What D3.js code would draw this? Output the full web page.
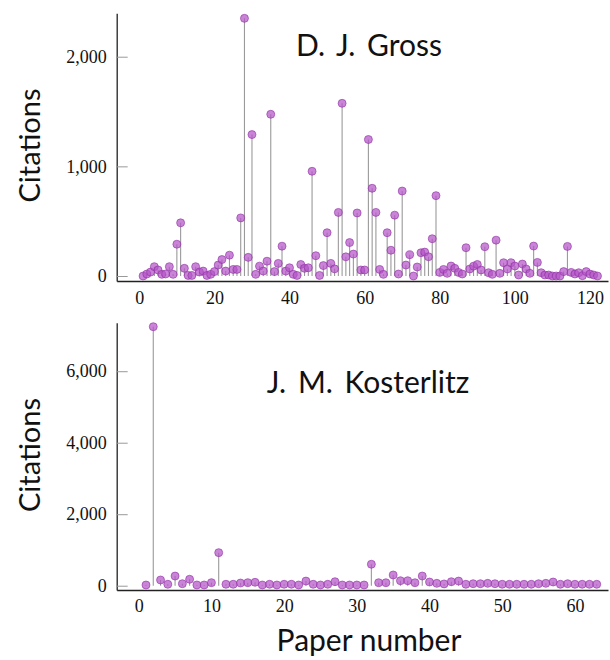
<!DOCTYPE html>
<html>
<head>
<meta charset="utf-8">
<script src="https://cdn.jsdelivr.net/npm/d3@7"></script>
<style>
  body { margin: 0; background: #fff; }
  svg { display: block; }
</style>
</head>
<body>
<svg id="chart" width="610" height="660"></svg>
<script>
// citations per paper (paper number = position + 1)
var grossCites = [
  0, 18, 36, 85, 55, 15, 18, 85, 15, 290,
  485, 70, 5, 5, 85, 36, 45, 5, 15, 40,
  100, 150, 45, 190, 60, 60, 530, 2350, 170, 1290,
  15, 90, 45, 135, 1475, 40, 115, 272, 45, 75,
  15, 5, 105, 70, 75, 955, 185, 5, 95, 395,
  115, 65, 580, 1575, 175, 305, 200, 575, 55, 55,
  1245, 800, 580, 60, 15, 395, 235, 555, 18, 775,
  100, 194, 0, 82, 212, 218, 176, 340, 733, 33,
  60, 24, 91, 70, 33, 18, 258, 64, 90, 105,
  55, 267, 30, 15, 327, 24, 121, 64, 121, 91,
  9, 109, 64, 24, 273, 124, 30, 9, 9, 0,
  0, 0, 40, 270, 33, 18, 30, 3, 40, 18,
  9, 0
]

var kosterlitzCites = [
  20, 7245, 160, 40, 270, 56, 180, 20, 20, 85,
  925, 40, 40, 75, 85, 95, 20, 40, 20, 40,
  40, 20, 130, 40, 20, 40, 112, 20, 20, 20,
  20, 600, 84, 84, 300, 140, 140, 84, 271, 103,
  66, 50, 112, 130, 40, 56, 56, 66, 56, 40,
  40, 40, 40, 40, 56, 66, 103, 40, 56, 40,
  40, 40, 40
]

var grossXTicks = [0, 20, 40, 60, 80, 100, 120]
var grossYTicks = [0, 1000, 2000]
var kosterlitzXTicks = [0, 10, 20, 30, 40, 50, 60]
var kosterlitzYTicks = [0, 2000, 4000, 6000]

const svg = d3.select("#chart")

const sansFont = "Lato, 'Open Sans', sans-serif"
const serifFont = "'Liberation Serif', 'DejaVu Serif', serif"

function drawPanel(cites, opts) {

    const x = d3.scaleLinear()
        .domain(opts.xDomain)
        .range([116.7, 608]);

    const y = d3.scaleLinear()
        .domain(opts.yDomain)
        .range([opts.bottom, opts.top]);

    const g = svg.append("g")

    // y axis, ticks point inward
    const yAxis = g.append("g")
        .attr("transform", "translate(" + x.range()[0] + ",0)")
        .call(d3.axisLeft(y)
            .tickValues(opts.yTicks)
            .tickFormat(d3.format(","))
            .tickSizeInner(-11)
            .tickSizeOuter(0)
            .tickPadding(10));

    // x axis
    const xAxis = g.append("g")
        .attr("transform", "translate(0," + opts.bottom + ")")
        .call(d3.axisBottom(x)
            .tickValues(opts.xTicks)
            .tickSize(0)
            .tickPadding(opts.xPad));

    [yAxis, xAxis].forEach(function (a) {
        a.attr("font-family", serifFont).attr("font-size", 18)
        a.select(".domain").attr("stroke", "#222").attr("stroke-width", 1.3)
        a.selectAll(".tick line").attr("stroke", "#999").attr("stroke-width", 1)
        a.selectAll(".tick text").attr("fill", "#111")
    });

    // stems
    g.selectAll(".stem")
        .data(cites)
        .join("line")
        .attr("class", "stem")
        .attr("x1", function (d, i) { return x(i + 1) })
        .attr("x2", function (d, i) { return x(i + 1) })
        .attr("y1", y(0))
        .attr("y2", function (d) { return y(d) })
        .attr("stroke", "#9a9a9a")
        .attr("stroke-width", 1.1);

    // markers
    g.selectAll(".dot")
        .data(cites)
        .join("circle")
        .attr("class", "dot")
        .attr("cx", function (d, i) { return x(i + 1) })
        .attr("cy", function (d) { return y(d) })
        .attr("r", 4)
        .attr("fill", "#b455c8")
        .attr("fill-opacity", 0.72)
        .attr("stroke", "#8e2fa3")
        .attr("stroke-opacity", 0.75)
        .attr("stroke-width", 0.8);

    // panel name
    g.append("text")
        .attr("x", opts.nameX)
        .attr("y", opts.nameY)
        .attr("text-anchor", "middle")
        .attr("font-family", sansFont)
        .attr("font-size", 30)
        .attr("word-spacing", 4)
        .attr("fill", "#111")
        .text(opts.name);

    // y label
    g.append("text")
        .attr("transform", "translate(40," + opts.labelY + ") rotate(-90)")
        .attr("text-anchor", "middle")
        .attr("font-family", sansFont)
        .attr("font-size", 29)
        .attr("fill", "#111")
        .text("Citations");
}

drawPanel(grossCites, {
    xDomain: [-6.02, 124.8],
    yDomain: [-45.6, 2396],
    top: 13.3,
    bottom: 281,
    xTicks: grossXTicks,
    yTicks: grossYTicks,
    xPad: 10,
    name: "D. J. Gross",
    nameX: 369,
    nameY: 56,
    labelY: 145.5
})

drawPanel(kosterlitzCites, {
    xDomain: [-3.03, 64.55],
    yDomain: [-120, 7357],
    top: 322.7,
    bottom: 590,
    xTicks: kosterlitzXTicks,
    yTicks: kosterlitzYTicks,
    xPad: 9,
    name: "J. M. Kosterlitz",
    nameX: 368,
    nameY: 393,
    labelY: 455
})

svg.append("text")
    .attr("x", 369)
    .attr("y", 651)
    .attr("text-anchor", "middle")
    .attr("font-family", sansFont)
    .attr("font-size", 30)
    .attr("fill", "#111")
    .text("Paper number");
</script>
</body>
</html>
